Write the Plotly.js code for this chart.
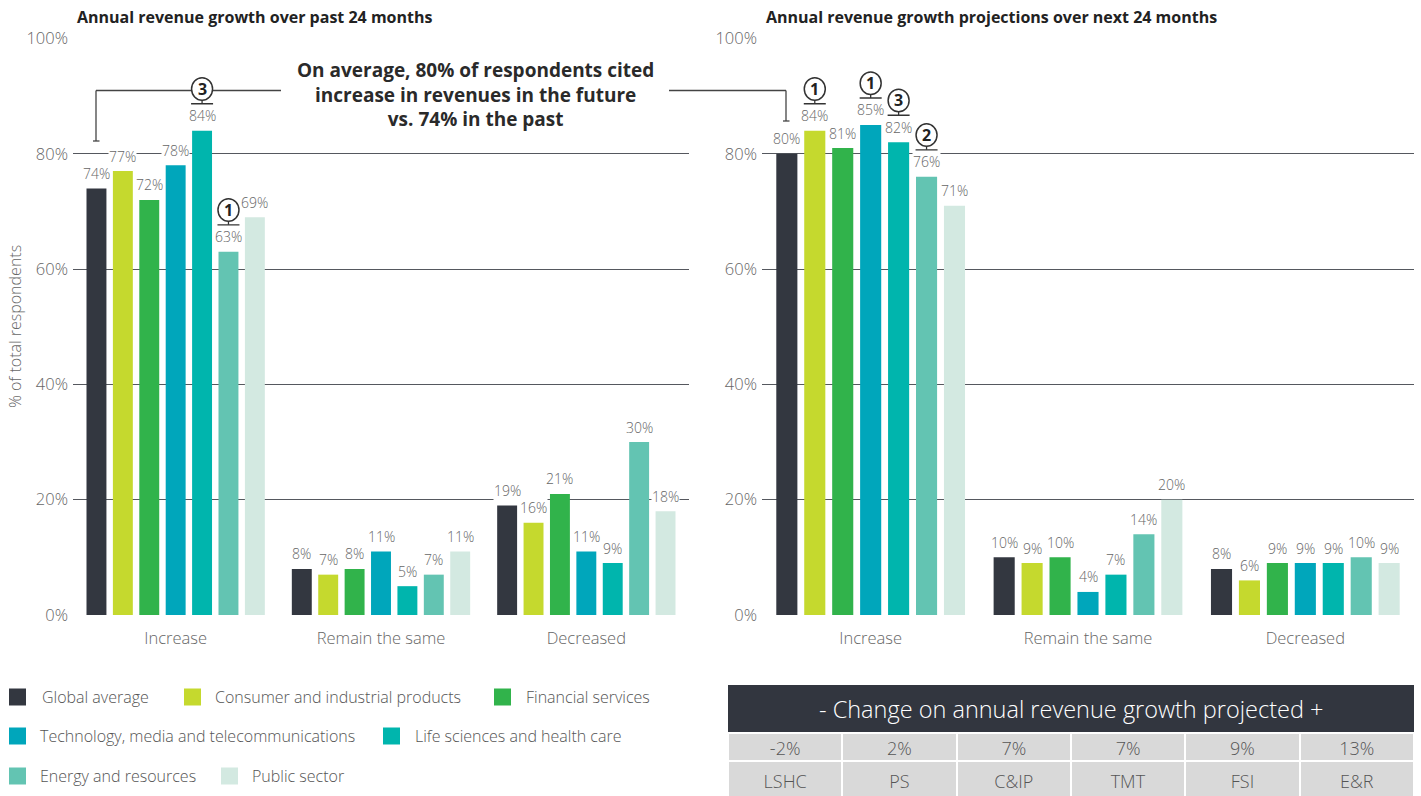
<!DOCTYPE html>
<html><head><meta charset="utf-8">
<script src="https://cdn.plot.ly/plotly-3.0.1.min.js"></script>
<style>html,body{margin:0;padding:0;background:#fff}#chart{width:1421px;height:796px}</style>
</head><body><div id="chart"></div>
<script>
// ---------------- DATA ----------------
const categories = ['Increase', 'Remain the same', 'Decreased'];
const seriesNames = ['Global average', 'Consumer and industrial products', 'Financial services',
  'Technology, media and telecommunications', 'Life sciences and health care',
  'Energy and resources', 'Public sector'];

const pastGlobal = [74, 8, 19];
const pastCIP    = [77, 7, 16];
const pastFS     = [72, 8, 21];
const pastTMT    = [78, 11, 11];
const pastLSHC   = [84, 5, 9];
const pastER     = [63, 7, 30];
const pastPS     = [69, 11, 18];

const nextGlobal = [80, 10, 8];
const nextCIP    = [84, 9, 6];
const nextFS     = [81, 10, 9];
const nextTMT    = [85, 4, 9];
const nextLSHC   = [82, 7, 9];
const nextER     = [76, 14, 10];
const nextPS     = [71, 20, 9];

// rank badges shown on the 'Increase' group
const pastRanks = [null, null, null, null, '3', '1', null];
const nextRanks = [null, '1', null, '1', '3', '2', null];

const yTickValues = [0, 20, 40, 60, 80, 100];
const yTickLabels = ['0%', '20%', '40%', '60%', '80%', '100%'];

const changeValues = ['-2%', '2%', '7%', '7%', '9%', '13%'];
const changeLabels = ['LSHC', 'PS', 'C&IP', 'TMT', 'FSI', 'E&R'];

const pastTitle = 'Annual revenue growth over past 24 months';
const nextTitle = 'Annual revenue growth projections over next 24 months';
const calloutText = 'On average, 80% of respondents cited<br>increase in revenues in the future<br>vs. 74% in the past';
const tableTitle = '- Change on annual revenue growth projected +';
const yTitle = '% of total respondents';

// ---------------- STYLE / LAYOUT ----------------
const seriesColors = ['#333740', '#c5d92e', '#31b34b', '#00a6bb', '#00b5ad', '#63c4b2', '#d3e9e1'];
const W = 1421, H = 796;
const px = x => x / W;
const py = y => 1 - y / H;
const FONT = 'Open Sans, Noto Sans, sans-serif';
const leftDom = [73, 689], rightDom = [762, 1414], yDom = [615, 38.5];
const bargap = 0.1, bargroupgap = 0.245;
const nSeries = seriesNames.length;
const slotLeft = ((leftDom[1] - leftDom[0]) / categories.length) * (1 - bargap) / nSeries;
const slotRight = ((rightDom[1] - rightDom[0]) / categories.length) * (1 - bargap) / nSeries;
// same markup path for every label cell so the whole row aligns identically
const cellText = s => '<span>' + s.replace(/&/g, '&amp;') + '</span>';

const pastSeries = [pastGlobal, pastCIP, pastFS, pastTMT, pastLSHC, pastER, pastPS];
const nextSeries = [nextGlobal, nextCIP, nextFS, nextTMT, nextLSHC, nextER, nextPS];

const traces = [];
function addBars(series, xa, ya) {
  series.forEach((vals, i) => {
    traces.push({
      type: 'bar', x: categories, y: vals, name: seriesNames[i],
      xaxis: xa, yaxis: ya, marker: {color: seriesColors[i]},
      showlegend: false, hoverinfo: 'skip'
    });
  });
}
addBars(pastSeries, 'x', 'y');
addBars(nextSeries, 'x2', 'y2');

// Table (two rows: change values and sector abbreviations)
const tableFont = {family: FONT, size: 18, color: '#555555', weight: 300};
traces.push({
  type: 'table',
  domain: {x: [px(728), px(1414)], y: [0, py(733)]},
  columnwidth: changeValues.map(() => 1),
  header: {
    values: changeValues.map(v => [v]),
    fill: {color: '#d9d9d9'}, line: {color: '#ffffff', width: 2},
    font: tableFont, align: 'center', height: 28
  },
  cells: {
    values: changeLabels.map(v => [cellText(v)]),
    fill: {color: '#d9d9d9'}, line: {color: '#ffffff', width: 2},
    font: tableFont, align: 'center', height: 35
  }
});

const annotations = [];
const shapes = [];

function addLabels(series, xa, ya, slot, ranks) {
  series.forEach((vals, i) => {
    const xs = (i - (nSeries - 1) / 2) * slot;
    vals.forEach((v, j) => {
      annotations.push({
        xref: xa, yref: ya, x: categories[j], y: v, text: v + '%',
        xshift: xs, yshift: 15, yanchor: 'middle', xanchor: 'center', showarrow: false,
        bgcolor: '#ffffff', borderpad: 0,
        font: {family: FONT, size: 14, color: '#666666', weight: 300}
      });
    });
    const r = ranks[i];
    if (r) {
      const v = vals[0];
      const base = {xref: xa, yref: ya, xsizemode: 'pixel', ysizemode: 'pixel',
                    xanchor: 0, yanchor: v, layer: 'above'};
      shapes.push(Object.assign({}, base, {type: 'line', x0: xs, x1: xs, y0: 27, y1: 31,
        line: {color: '#333333', width: 1.3}}));
      shapes.push(Object.assign({}, base, {type: 'line', x0: xs - 11, x1: xs + 11, y0: 27, y1: 27,
        line: {color: '#333333', width: 1.3}}));
      shapes.push(Object.assign({}, base, {type: 'circle', x0: xs - 10.5, x1: xs + 10.5, y0: 30.5, y1: 53,
        fillcolor: '#ffffff', line: {color: '#333333', width: 1.5}}));
      annotations.push({
        xref: xa, yref: ya, x: categories[0], y: v, text: '<b>' + r + '</b>',
        xshift: xs, yshift: 42, yanchor: 'middle', showarrow: false,
        font: {family: FONT, size: 16, color: '#222222'}
      });
    }
  });
}
addLabels(pastSeries, 'x', 'y', slotLeft, pastRanks);
addLabels(nextSeries, 'x2', 'y2', slotRight, nextRanks);

// connector lines for the callout
const lineStyle = {color: '#444444', width: 1.3};
[
  [96, 141, 96, 90.5], [93, 141, 99.5, 141], [96, 90.5, 281, 90.5],
  [669, 90.5, 786, 90.5], [786, 90.5, 786, 121], [783, 121, 789.5, 121]
].forEach(s => shapes.push({type: 'line', xref: 'paper', yref: 'paper',
  x0: px(s[0]), y0: py(s[1]), x1: px(s[2]), y1: py(s[3]), line: lineStyle, layer: 'below'}));

// table title bar
shapes.push({type: 'rect', xref: 'paper', yref: 'paper', x0: px(728), x1: px(1414),
  y0: py(732), y1: py(685), fillcolor: '#32363f', line: {width: 0}});
annotations.push({xref: 'paper', yref: 'paper', x: px(1071), y: py(709), text: tableTitle,
  showarrow: false, xanchor: 'center', yanchor: 'middle',
  font: {family: FONT, size: 23.5, color: '#ffffff', weight: 300}});

// titles
annotations.push({xref: 'paper', yref: 'paper', x: px(75), y: py(17), text: '<b>' + pastTitle + '</b>',
  showarrow: false, xanchor: 'left', yanchor: 'middle', font: {family: FONT, size: 16, color: '#222222'}});
annotations.push({xref: 'paper', yref: 'paper', x: px(764), y: py(17), text: '<b>' + nextTitle + '</b>',
  showarrow: false, xanchor: 'left', yanchor: 'middle', font: {family: FONT, size: 16, color: '#222222'}});
annotations.push({xref: 'paper', yref: 'paper', x: px(476), y: py(95), text: '<b>' + calloutText + '</b>',
  showarrow: false, xanchor: 'center', yanchor: 'middle', align: 'center',
  font: {family: FONT, size: 19, color: '#2a2a2a'}});
annotations.push({xref: 'paper', yref: 'paper', x: px(15), y: py(327), text: yTitle, textangle: -90,
  showarrow: false, xanchor: 'center', yanchor: 'middle',
  font: {family: FONT, size: 16, color: '#666666', weight: 300}});

// manual legend (3 rows)
const legendRows = [
  [[0, 9, 40], [1, 184, 213], [2, 494, 524]],
  [[3, 9, 38], [4, 383, 413]],
  [[5, 9, 38], [6, 221, 250]]
];
const legendY = [697, 736, 776];
legendRows.forEach((row, r) => {
  row.forEach(([i, sx, tx]) => {
    const cy = legendY[r];
    shapes.push({type: 'rect', xref: 'paper', yref: 'paper', x0: px(sx), x1: px(sx + 17),
      y0: py(cy + 8.5), y1: py(cy - 8.5), fillcolor: seriesColors[i], line: {width: 0}});
    annotations.push({xref: 'paper', yref: 'paper', x: px(tx), y: py(cy), text: seriesNames[i],
      showarrow: false, xanchor: 'left', yanchor: 'middle',
      font: {family: FONT, size: 16, color: '#555555', weight: 300}});
  });
});

function yAxis(anchor) {
  return {domain: [py(yDom[0]), py(yDom[1])], range: [0, 100], anchor: anchor,
    tickvals: yTickValues, ticktext: yTickLabels, showgrid: true, gridcolor: '#55585e', gridwidth: 1,
    zeroline: false, showline: false, ticks: '', ticklabelstandoff: 4, fixedrange: true,
    tickfont: {family: FONT, size: 16.5, color: '#666666', weight: 300}};
}
function xAxis(dom, anchor) {
  return {domain: [px(dom[0]), px(dom[1])], type: 'category', anchor: anchor,
    showgrid: false, zeroline: false, showline: false, ticks: '', ticklabelstandoff: 11, fixedrange: true,
    tickfont: {family: FONT, size: 16.5, color: '#666666', weight: 300}};
}

const layout = {
  width: W, height: H, margin: {l: 0, r: 0, t: 0, b: 0},
  paper_bgcolor: '#ffffff', plot_bgcolor: 'rgba(0,0,0,0)',
  barmode: 'group', bargap: bargap, bargroupgap: bargroupgap,
  showlegend: false,
  xaxis: xAxis(leftDom, 'y'), yaxis: yAxis('x'),
  xaxis2: xAxis(rightDom, 'y2'), yaxis2: yAxis('x2'),
  annotations: annotations, shapes: shapes,
  font: {family: FONT}
};

Plotly.newPlot('chart', traces, layout, {displayModeBar: false, staticPlot: true});
</script>
</body></html>
